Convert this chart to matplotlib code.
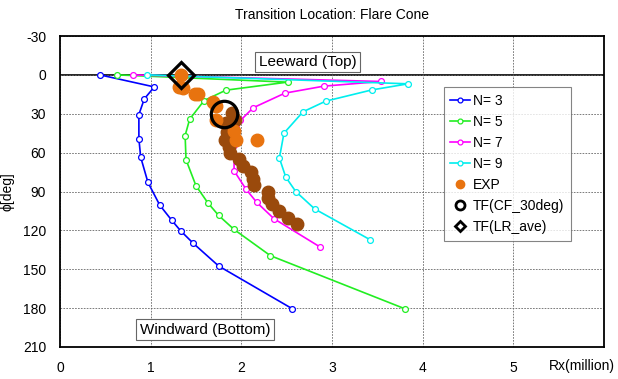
import matplotlib
matplotlib.use("Agg")
import matplotlib.pyplot as plt

plt.rcParams['font.family'] = ['Liberation Sans', 'DejaVu Sans']
plt.rcParams['axes.unicode_minus'] = False

# N = 3
n3_x = [0.44, 1.04, 0.93, 0.87, 0.87, 0.89, 0.97, 1.10, 1.23, 1.33, 1.47, 1.75, 2.56]
n3_y = [0, 9.3, 18.5, 30.6, 49.3, 63.5, 83, 100.5, 112, 120.3, 130, 147.5, 180.4]
# N = 5
n5_x = [0.63, 2.51, 1.83, 1.59, 1.43, 1.38, 1.39, 1.50, 1.63, 1.75, 1.92, 2.32, 3.80]
n5_y = [0, 5.6, 11.8, 19.8, 34.2, 46.8, 65.5, 85.6, 98.7, 108.5, 119.3, 139.5, 180.4]
# N = 7
n7_x = [0.80, 3.54, 2.91, 2.48, 2.13, 1.99, 1.92, 1.92, 2.05, 2.17, 2.36, 2.87]
n7_y = [0, 5.1, 8.7, 14.1, 25.4, 35.2, 54, 74, 88.1, 98.4, 111, 132.9]
# N = 9
n9_x = [0.965, 3.84, 3.44, 2.93, 2.68, 2.47, 2.42, 2.49, 2.60, 2.81, 3.42]
n9_y = [0, 6.9, 11.6, 20.3, 28.5, 45, 64.2, 78.9, 90, 103.5, 127.2]

# experiment
exp_x = [1.33, 1.31, 1.36, 1.49, 1.52, 1.69, 1.72, 1.72, 1.92, 1.94, 2.17]
exp_y = [0, 9, 10.3, 14.9, 14.9, 20.6, 24.4, 35.2, 43.6, 50.1, 50.1]
exp2_x = [1.90, 1.93, 1.83, 1.84, 1.82, 1.86, 1.87, 1.97, 2.02, 2.11, 2.13, 2.14,
          2.29, 2.29, 2.34, 2.42, 2.51, 2.61]
exp2_y = [29.6, 34.7, 37.3, 43.7, 50.1, 55.3, 60.4, 65, 70.2, 75.3, 80.4, 85.3,
          90.7, 95.1, 99.7, 104.9, 110.5, 115.1]

tf_cf_x, tf_cf_y = [1.81], [30]
tf_lr_x, tf_lr_y = [1.33], [0]

fig = plt.figure(figsize=(6.18, 3.79), dpi=100)
ax = fig.add_axes([60 / 618, 1 - 347 / 379, 544 / 618, 311 / 379])

line_kw = dict(lw=1.2, marker='o', ms=4.2, mfc='white', mew=0.9)
ax.plot(n3_x, n3_y, color='#0000ff', mec='#0000ff', label='N= 3', **line_kw)
ax.plot(n5_x, n5_y, color='#22ee22', mec='#22ee22', label='N= 5', **line_kw)
ax.plot(n7_x, n7_y, color='#ff00ff', mec='#ff00ff', label='N= 7', **line_kw)
ax.plot(n9_x, n9_y, color='#00eeee', mec='#00eeee', label='N= 9', **line_kw)

ax.plot(exp2_x, exp2_y, ls='none', marker='o', ms=9, color='#9a4a0c', zorder=4)
ax.plot(exp_x, exp_y, ls='none', marker='o', ms=9, color='#e8730f', label='EXP', zorder=4)
ax.plot(tf_cf_x, tf_cf_y, ls='none', marker='o', ms=19, mfc='none', mec='black',
        mew=2.3, label='TF(CF_30deg)', zorder=5)
ax.plot(tf_lr_x, tf_lr_y, ls='none', marker='D', ms=13, mfc='none', mec='black',
        mew=2.3, label='TF(LR_ave)', zorder=5)

ax.axhline(0, color='black', lw=1.2, zorder=1)

ax.set_xlim(0, 6)
ax.set_ylim(210, -30)
ax.set_xticks([0, 1, 2, 3, 4, 5])
ax.set_yticks(range(-30, 211, 30))
ax.tick_params(length=0, labelsize=10, pad=10)
ax.grid(True, color='#666666', ls=(0, (2, 1.5)), lw=0.6)
for s in ax.spines.values():
    s.set_linewidth(1.3)

ax.set_title('Transition Location: Flare Cone', fontsize=10, pad=12)
ax.set_ylabel('ϕ[deg]', fontsize=10, labelpad=6)
fig.text(615 / 618, 1 - 366 / 379, 'Rx(million)', ha='right', va='center', fontsize=10)

box = dict(boxstyle='square,pad=0.22', fc='white', ec='#666666', lw=0.8)
ax.text(2.73, -10, 'Leeward (Top)', ha='center', va='center', fontsize=11, bbox=box)
ax.text(1.6, 196.5, 'Windward (Bottom)', ha='center', va='center', fontsize=11, bbox=box)

leg = ax.legend(loc='upper left', bbox_to_anchor=(0.705, 0.835), fontsize=10,
                frameon=True, fancybox=False, handlelength=1.4, handletextpad=0.2,
                borderpad=0.5, borderaxespad=0, labelspacing=0.5)
leg.get_frame().set_edgecolor('#666666')
leg.get_frame().set_linewidth(0.8)
# smaller markers inside the legend
for h, size, mew in zip(leg.legend_handles, [3.5, 3.5, 3.5, 3.5, 6, 6.5, 5.5],
                        [0.9, 0.9, 0.9, 0.9, 1, 2, 2]):
    h.set_markersize(size)
    h.set_markeredgewidth(mew)

fig.savefig('out.png', dpi=100)
